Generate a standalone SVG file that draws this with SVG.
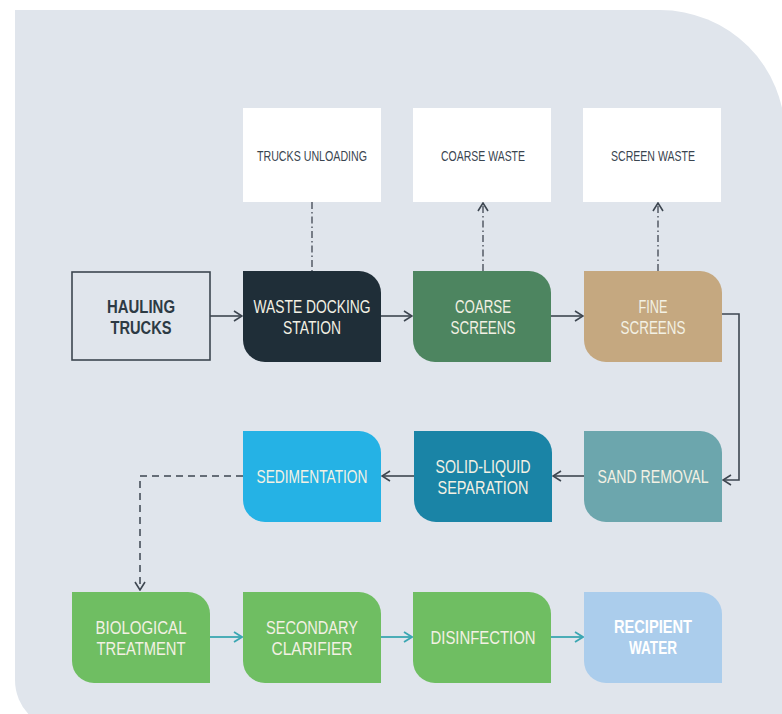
<svg xmlns="http://www.w3.org/2000/svg" width="782" height="714" viewBox="0 0 782 714">
<defs>
<style>
.t{font-family:"Liberation Sans",Arial,sans-serif;font-size:18px;text-anchor:middle;fill:#f3f1e4}
.s{font-family:"Liberation Sans",Arial,sans-serif;font-size:15px;text-anchor:middle;fill:#3a4550}
.b{font-weight:bold}
.ln{fill:none;stroke:#3d4650;stroke-width:1.6}
.tl{fill:none;stroke:#3aa6b2;stroke-width:1.8}
.dd{fill:none;stroke:#4a525c;stroke-width:1.4;stroke-dasharray:7 3 1.5 3}
.ds{fill:none;stroke:#3d4650;stroke-width:1.5;stroke-dasharray:7 5}
</style>
<marker id="a" viewBox="0 0 10 12" refX="9" refY="6" markerWidth="10" markerHeight="12" markerUnits="userSpaceOnUse" orient="auto"><path d="M1,1 L9,6 L1,11" fill="none" stroke="#3d4650" stroke-width="1.6"/></marker>
<marker id="at" viewBox="0 0 10 12" refX="9" refY="6" markerWidth="10" markerHeight="12" markerUnits="userSpaceOnUse" orient="auto"><path d="M1,1 L9,6 L1,11" fill="none" stroke="#3aa6b2" stroke-width="1.8"/></marker>
</defs>
<rect width="782" height="714" fill="#ffffff"/>
<path d="M15,10 H660 A125 125 0 0 1 785 135 V730 H65 A50 50 0 0 1 15 680 Z" fill="#e0e5ec"/>

<g id="trucks-unloading"><rect x="243" y="108" width="138" height="94" fill="#ffffff"/><text class="s" x="312" y="161" textLength="110" lengthAdjust="spacingAndGlyphs">TRUCKS UNLOADING</text></g>
<g id="coarse-waste"><rect x="413" y="108" width="138" height="94" fill="#ffffff"/><text class="s" x="483" y="161" textLength="84" lengthAdjust="spacingAndGlyphs">COARSE WASTE</text></g>
<g id="screen-waste"><rect x="583" y="108" width="138" height="94" fill="#ffffff"/><text class="s" x="653" y="161" textLength="84" lengthAdjust="spacingAndGlyphs">SCREEN WASTE</text></g>

<g id="hauling-trucks"><rect x="72" y="272" width="138" height="88" fill="none" stroke="#3d4650" stroke-width="1.6"/><text class="t b" style="fill:#2d3a44" x="141" y="313" textLength="68" lengthAdjust="spacingAndGlyphs">HAULING</text><text class="t b" style="fill:#2d3a44" x="141" y="334" textLength="61" lengthAdjust="spacingAndGlyphs">TRUCKS</text></g>

<g id="waste-docking-station"><path d="M243,271 H359 A22 22 0 0 1 381,293 V362 H265 A22 22 0 0 1 243,340 Z" fill="#1f2e38"/><text class="t" x="312" y="313" textLength="117" lengthAdjust="spacingAndGlyphs">WASTE DOCKING</text><text class="t" x="312" y="334" textLength="58" lengthAdjust="spacingAndGlyphs">STATION</text></g>
<g id="coarse-screens"><path d="M413,271 H529 A22 22 0 0 1 551,293 V362 H435 A22 22 0 0 1 413,340 Z" fill="#4d8560"/><text class="t" x="483" y="313" textLength="56" lengthAdjust="spacingAndGlyphs">COARSE</text><text class="t" x="483" y="334" textLength="65" lengthAdjust="spacingAndGlyphs">SCREENS</text></g>
<g id="fine-screens"><path d="M584,271 H700 A22 22 0 0 1 722,293 V362 H606 A22 22 0 0 1 584,340 Z" fill="#c5a880"/><text class="t" x="653" y="313" textLength="29" lengthAdjust="spacingAndGlyphs">FINE</text><text class="t" x="653" y="334" textLength="65" lengthAdjust="spacingAndGlyphs">SCREENS</text></g>

<g id="sand-removal"><path d="M584,431 H700 A22 22 0 0 1 722,453 V522 H606 A22 22 0 0 1 584,500 Z" fill="#6ca6ad"/><text class="t" x="653" y="483" textLength="111" lengthAdjust="spacingAndGlyphs">SAND REMOVAL</text></g>
<g id="solid-liquid-separation"><path d="M414,431 H530 A22 22 0 0 1 552,453 V522 H436 A22 22 0 0 1 414,500 Z" fill="#1a84a6"/><text class="t" x="483" y="473" textLength="95" lengthAdjust="spacingAndGlyphs">SOLID-LIQUID</text><text class="t" x="483" y="494" textLength="91" lengthAdjust="spacingAndGlyphs">SEPARATION</text></g>
<g id="sedimentation"><path d="M243,431 H359 A22 22 0 0 1 381,453 V522 H265 A22 22 0 0 1 243,500 Z" fill="#25b2e5"/><text class="t" x="312" y="483" textLength="111" lengthAdjust="spacingAndGlyphs">SEDIMENTATION</text></g>

<g id="biological-treatment"><path d="M72,592 H188 A22 22 0 0 1 210,614 V683 H94 A22 22 0 0 1 72,661 Z" fill="#6fbe62"/><text class="t" x="141" y="634" textLength="91" lengthAdjust="spacingAndGlyphs">BIOLOGICAL</text><text class="t" x="141" y="655" textLength="89" lengthAdjust="spacingAndGlyphs">TREATMENT</text></g>
<g id="secondary-clarifier"><path d="M243,592 H359 A22 22 0 0 1 381,614 V683 H265 A22 22 0 0 1 243,661 Z" fill="#6fbe62"/><text class="t" x="312" y="634" textLength="92" lengthAdjust="spacingAndGlyphs">SECONDARY</text><text class="t" x="312" y="655" textLength="81" lengthAdjust="spacingAndGlyphs">CLARIFIER</text></g>
<g id="disinfection"><path d="M413,592 H529 A22 22 0 0 1 551,614 V683 H435 A22 22 0 0 1 413,661 Z" fill="#6fbe62"/><text class="t" x="483" y="644" textLength="105" lengthAdjust="spacingAndGlyphs">DISINFECTION</text></g>
<g id="recipient-water"><path d="M584,592 H700 A22 22 0 0 1 722,614 V683 H606 A22 22 0 0 1 584,661 Z" fill="#abcdec"/><text class="t b" style="fill:#ffffff" x="653" y="633" textLength="78" lengthAdjust="spacingAndGlyphs">RECIPIENT</text><text class="t b" style="fill:#ffffff" x="653" y="654" textLength="48" lengthAdjust="spacingAndGlyphs">WATER</text></g>

<g id="connectors">
<path class="ln" d="M210,316 H242" marker-end="url(#a)"/>
<path class="ln" d="M381,316 H412" marker-end="url(#a)"/>
<path class="ln" d="M551,316 H583" marker-end="url(#a)"/>
<path class="ln" d="M722,314 H739 V480 H723" marker-end="url(#a)"/>
<path class="ln" d="M584,476 H553" marker-end="url(#a)"/>
<path class="ln" d="M414,476 H382" marker-end="url(#a)"/>
<path class="ds" d="M243,476 H140 V590" marker-end="url(#a)"/>
<path class="dd" d="M312,202 V271"/>
<path class="dd" d="M483,271 V203" marker-end="url(#a)"/>
<path class="dd" d="M658,271 V203" marker-end="url(#a)"/>
<path class="tl" d="M210,637 H242" marker-end="url(#at)"/>
<path class="tl" d="M381,637 H412" marker-end="url(#at)"/>
<path class="tl" d="M551,637 H583" marker-end="url(#at)"/>
</g>
</svg>
